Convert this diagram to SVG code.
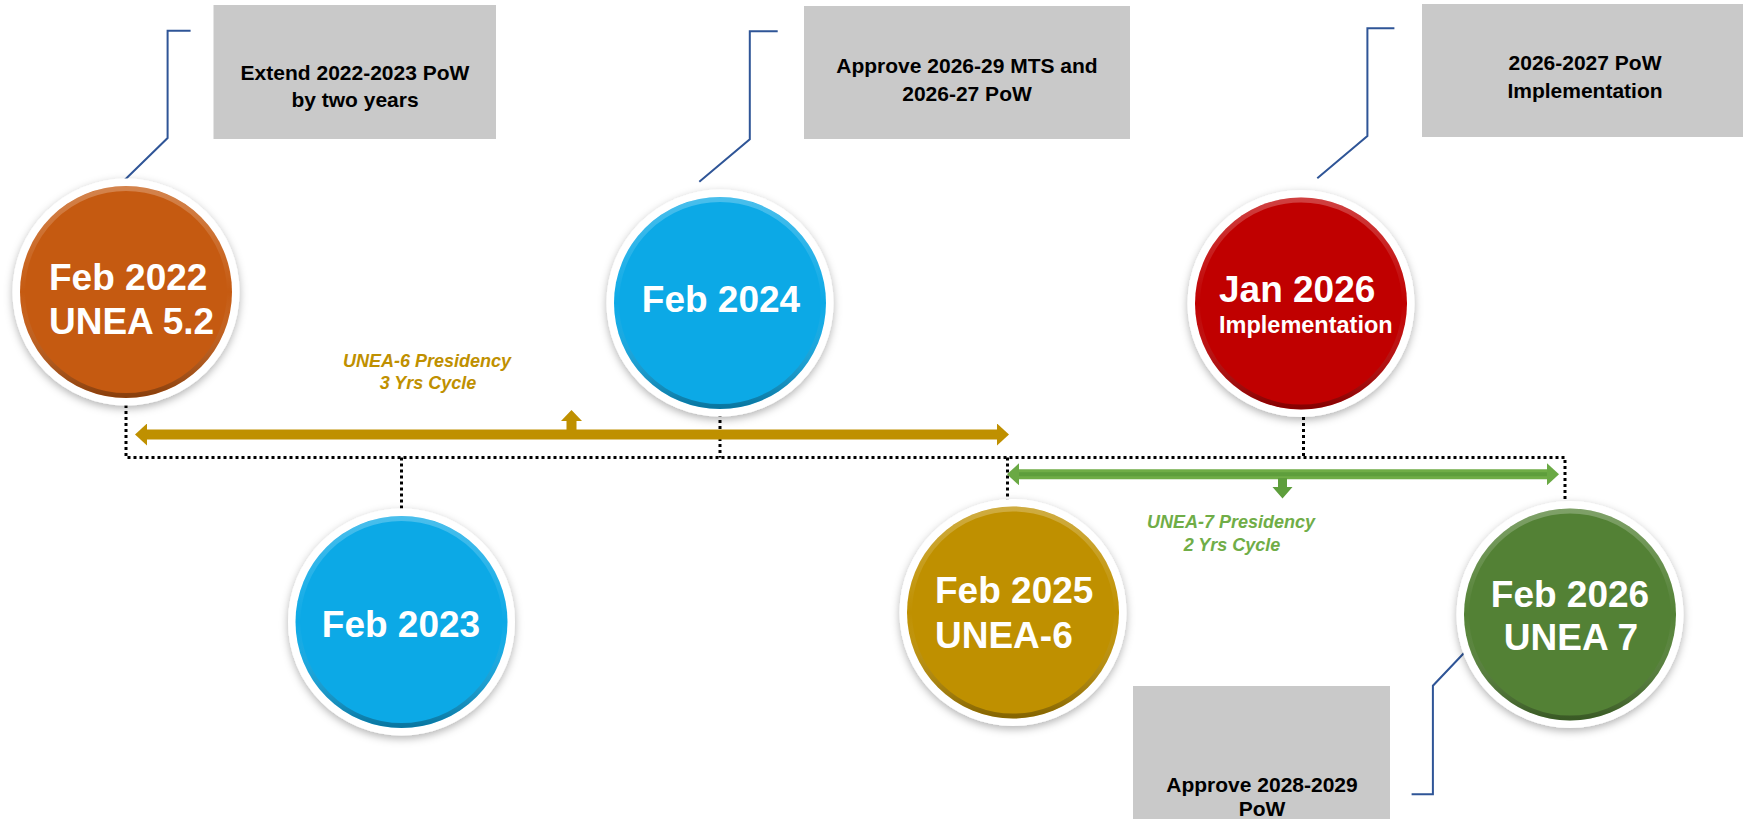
<svg xmlns="http://www.w3.org/2000/svg" width="1743" height="819" viewBox="0 0 1743 819">
<style>
.box{fill:#C9C9C9}
.boxt{font-family:"Liberation Sans",Arial,sans-serif;font-weight:bold;font-size:21px;fill:#000;text-anchor:middle}
.ring{fill:#fff;filter:url(#sh)}
.bev{fill:none;stroke:url(#bevel);stroke-width:5}
.ct{font-family:"Liberation Sans",Arial,sans-serif;font-weight:bold;font-size:37px;fill:#fff}
.mid{text-anchor:middle}
.call{fill:none;stroke:#2F5597;stroke-width:2}
.dot{fill:none;stroke:#000;stroke-width:3;stroke-dasharray:3 3}
.pres{font-family:"Liberation Sans",Arial,sans-serif;font-weight:bold;font-style:italic;font-size:18px;text-anchor:middle}
</style>
<defs>
<filter id="sh" x="-20%" y="-20%" width="140%" height="140%">
<feDropShadow dx="0" dy="3" stdDeviation="4" flood-color="#000" flood-opacity="0.3"/>
</filter>
<linearGradient id="bevel" x1="0" y1="0" x2="0" y2="1">
<stop offset="0" stop-color="#fff" stop-opacity="0.25"/>
<stop offset="0.5" stop-color="#fff" stop-opacity="0"/>
<stop offset="1" stop-color="#000" stop-opacity="0.3"/>
</linearGradient>
<marker id="goldHead" viewBox="0 0 12 22" markerUnits="userSpaceOnUse" markerWidth="12" markerHeight="22" refX="0" refY="11" orient="auto-start-reverse">
<path d="M0,0 L12,11 L0,22 Z" fill="#BF9000"/>
</marker>
<marker id="greenHead" viewBox="0 0 12 22" markerUnits="userSpaceOnUse" markerWidth="12" markerHeight="22" refX="0" refY="11" orient="auto-start-reverse">
<path d="M0,0 L12,11 L0,22 Z" fill="#6AA944"/>
</marker>
</defs>
<rect width="1743" height="819" fill="#fff"/>

<g id="connectors">
<path class="dot" d="M126,405 V457.5 H1565 V507"/>
<path class="dot" d="M720,414 V457.5"/>
<path class="dot" d="M401.5,457.5 V509"/>
<path class="dot" d="M1007.5,457.5 V500"/>
<path class="dot" d="M1303.5,417 V457.5"/>
<path class="call" d="M190.6,30.7 H167.6 V138 L123.6,181"/>
<path class="call" d="M777.7,31.3 H749.8 V139.3 L699.3,181.7"/>
<path class="call" d="M1394.4,28.3 H1367.4 V136 L1317.3,178.3"/>
<path class="call" d="M1472.3,644.3 L1432.9,685.7 V794.3 H1411.6"/>
<path d="M147,434.5 H997" stroke="#BF9000" stroke-width="10" marker-start="url(#goldHead)" marker-end="url(#goldHead)"/>
<path d="M566.5,430 V421 H561 L571.5,410 L582,421 H576.5 V430 Z" fill="#BF9000"/>
<path d="M1019,474.3 H1547" stroke="#70AD47" stroke-width="10" marker-start="url(#greenHead)" marker-end="url(#greenHead)"/>
<path d="M1019,474.3 H1547" stroke="#5E9E3C" stroke-width="4"/>
<path d="M1278,478 V487 H1272.5 L1282.5,498.5 L1292.5,487 H1287 V478 Z" fill="#5E9E3C"/>
</g>

<g id="label-unea6-cycle">
<text class="pres" fill="#BF9000" x="427" y="367">UNEA-6 Presidency</text>
<text class="pres" fill="#BF9000" x="428" y="389">3 Yrs Cycle</text>
</g>
<g id="label-unea7-cycle">
<text class="pres" fill="#70AD47" x="1231" y="527.7">UNEA-7 Presidency</text>
<text class="pres" fill="#70AD47" x="1232" y="551">2 Yrs Cycle</text>
</g>

<g id="box-extend">
<rect class="box" x="213.5" y="5" width="282.5" height="134"/>
<text class="boxt" x="355" y="80">Extend 2022-2023 PoW</text>
<text class="boxt" x="355" y="107">by two years</text>
</g>
<g id="box-approve-mts">
<rect class="box" x="804" y="6" width="326" height="133"/>
<text class="boxt" x="967" y="73">Approve 2026-29 MTS and</text>
<text class="boxt" x="967" y="101">2026-27 PoW</text>
</g>
<g id="box-implementation">
<rect class="box" x="1422" y="4" width="321" height="133"/>
<text class="boxt" x="1585" y="70">2026-2027 PoW</text>
<text class="boxt" x="1585" y="98">Implementation</text>
</g>
<g id="box-approve-pow">
<rect class="box" x="1133" y="686" width="257" height="140"/>
<text class="boxt" x="1262" y="792">Approve 2028-2029</text>
<text class="boxt" x="1262" y="816">PoW</text>
</g>

<g id="node-feb2022">
<circle class="ring" cx="126" cy="292" r="113.5"/>
<circle cx="126" cy="292" r="106" fill="#C55A11"/>
<circle class="bev" cx="126" cy="292" r="103.5"/>
<text class="ct" x="49" y="290">Feb 2022</text>
<text class="ct" x="49" y="334">UNEA 5.2</text>
</g>
<g id="node-feb2024">
<circle class="ring" cx="720" cy="303" r="113.5"/>
<circle cx="720" cy="303" r="106" fill="#0CA9E6"/>
<circle class="bev" cx="720" cy="303" r="103.5"/>
<text class="ct mid" x="721" y="312">Feb 2024</text>
</g>
<g id="node-feb2023">
<circle class="ring" cx="401.5" cy="622" r="113.5"/>
<circle cx="401.5" cy="622" r="106" fill="#0CA9E6"/>
<circle class="bev" cx="401.5" cy="622" r="103.5"/>
<text class="ct mid" x="401" y="637">Feb 2023</text>
</g>
<g id="node-feb2025">
<circle class="ring" cx="1013" cy="612.5" r="113.5"/>
<circle cx="1013" cy="612.5" r="106" fill="#BF9000"/>
<circle class="bev" cx="1013" cy="612.5" r="103.5"/>
<text class="ct" x="935" y="603">Feb 2025</text>
<text class="ct" x="935" y="648">UNEA-6</text>
</g>
<g id="node-jan2026">
<circle class="ring" cx="1301" cy="303.5" r="113.5"/>
<circle cx="1301" cy="303.5" r="106" fill="#C00000"/>
<circle class="bev" cx="1301" cy="303.5" r="103.5"/>
<text class="ct" x="1219" y="302">Jan 2026</text>
<text class="ct" x="1219" y="333" style="font-size:23.5px">Implementation</text>
</g>
<g id="node-feb2026">
<circle class="ring" cx="1570" cy="614.5" r="113.5"/>
<circle cx="1570" cy="614.5" r="106" fill="#538135"/>
<circle class="bev" cx="1570" cy="614.5" r="103.5"/>
<text class="ct mid" x="1570" y="607">Feb 2026</text>
<text class="ct mid" x="1571" y="650">UNEA 7</text>
</g>
</svg>
